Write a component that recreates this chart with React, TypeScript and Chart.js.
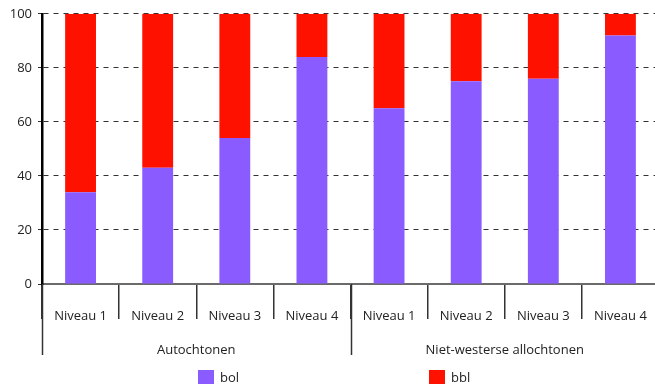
import React, { useEffect, useRef } from "react";
import { Chart, registerables } from "chart.js";

Chart.register(...registerables);

// ---- data ----
const categories = ["Niveau 1", "Niveau 2", "Niveau 3", "Niveau 4", "Niveau 1", "Niveau 2", "Niveau 3", "Niveau 4"];
const groups = ["Autochtonen", "Niet-westerse allochtonen"];
const groupSizes = [4, 4];
const bolValues = [34, 43, 54, 84, 65, 75, 76, 92];
const bblValues = [66, 57, 46, 16, 35, 25, 24, 8];
const yTicks = [0, 20, 40, 60, 80, 100];
const seriesNames = ["bol", "bbl"];
const seriesColors = ["#8a5bff", "#ff1100"];

const FONT = "'Open Sans', sans-serif";

const groupPlugin = {
  id: "groupAxis",
  afterDraw(chart: any) {
    const x = chart.scales.x;
    const ctx = chart.ctx;
    const bottom = chart.chartArea.bottom;
    const half = (x.getPixelForValue(1) - x.getPixelForValue(0)) / 2;
    let start = 0;
    ctx.save();
    ctx.strokeStyle = "#333";
    ctx.lineWidth = 1.5;
    ctx.font = `13px ${FONT}`;
    ctx.fillStyle = "#222";
    ctx.textAlign = "center";
    ctx.textBaseline = "middle";
    groups.forEach((g, i) => {
      const end = start + groupSizes[i] - 1;
      const x0 = x.getPixelForValue(start) - half;
      const x1 = x.getPixelForValue(end) + half;
      ctx.beginPath();
      ctx.moveTo(Math.round(x0) + 0.5, bottom);
      ctx.lineTo(Math.round(x0) + 0.5, bottom + 71);
      ctx.stroke();
      ctx.fillText(g, (x0 + x1) / 2, bottom + 66);
      if (i === groups.length - 1) {
        ctx.beginPath();
        ctx.moveTo(Math.round(x1) + 0.5, bottom);
        ctx.lineTo(Math.round(x1) + 0.5, bottom + 71);
        ctx.stroke();
      }
      start = end + 1;
    });
    ctx.restore();
  },
};

export default function App() {
  const ref = useRef<HTMLCanvasElement | null>(null);

  useEffect(() => {
    if (!ref.current) return;
    const chart = new Chart(ref.current, {
      type: "bar",
      data: {
        labels: categories,
        datasets: [
          { label: seriesNames[0], data: bolValues, backgroundColor: seriesColors[0], barPercentage: 0.4, categoryPercentage: 1 },
          { label: seriesNames[1], data: bblValues, backgroundColor: seriesColors[1], barPercentage: 0.4, categoryPercentage: 1 },
        ],
      },
      options: {
        animation: false,
        responsive: false,
        layout: { padding: { top: 13, left: 0, right: 4, bottom: 0 } },
        plugins: {
          legend: { display: false },
          tooltip: { enabled: false },
        },
        scales: {
          x: {
            stacked: true,
            afterFit: (s: any) => {
              s.height = 101;
            },
            grid: {
              display: true,
              drawOnChartArea: false,
              drawTicks: true,
              offset: true,
              tickLength: 35,
              color: "#333",
              lineWidth: 1.5,
            },
            border: { display: true, color: "#6b6b6b", width: 2 },
            ticks: {
              padding: -11,
              maxRotation: 0,
              autoSkip: false,
              color: "#222",
              font: { family: FONT, size: 13 },
            },
          },
          y: {
            stacked: true,
            min: 0,
            max: 100,
            afterFit: (s: any) => {
              s.width = 42;
            },
            afterBuildTicks: (s: any) => {
              s.ticks = yTicks.map((v) => ({ value: v }));
            },
            grid: {
              color: "#333",
              lineWidth: 1,
              tickLength: 4,
              tickBorderDash: [],
            },
            border: { display: true, color: "#000", width: 2.5, dash: [5, 5] },
            ticks: {
              padding: 6,
              color: "#222",
              font: { family: FONT, size: 13 },
            },
          },
        },
      },
      plugins: [groupPlugin],
    });
    return () => chart.destroy();
  }, []);

  return (
    <div style={{ position: "fixed", left: 0, top: 0, width: 655, height: 385, overflow: "hidden", background: "#fff" }}>
      <canvas ref={ref} width={663} height={385} style={{ width: 663, height: 385, display: "block" }} />
      <div
        style={{
          position: "absolute",
          left: 198,
          top: 369,
          display: "flex",
          gap: 190,
          fontFamily: FONT,
          fontSize: 13,
          color: "#222",
          lineHeight: "16px",
        }}
      >
        {seriesNames.map((n, i) => (
          <div key={n} style={{ display: "flex", alignItems: "center" }}>
            <span style={{ display: "inline-block", width: 16, height: 14, background: seriesColors[i], marginRight: 6 }} />
            <span>{n}</span>
          </div>
        ))}
      </div>
    </div>
  );
}
